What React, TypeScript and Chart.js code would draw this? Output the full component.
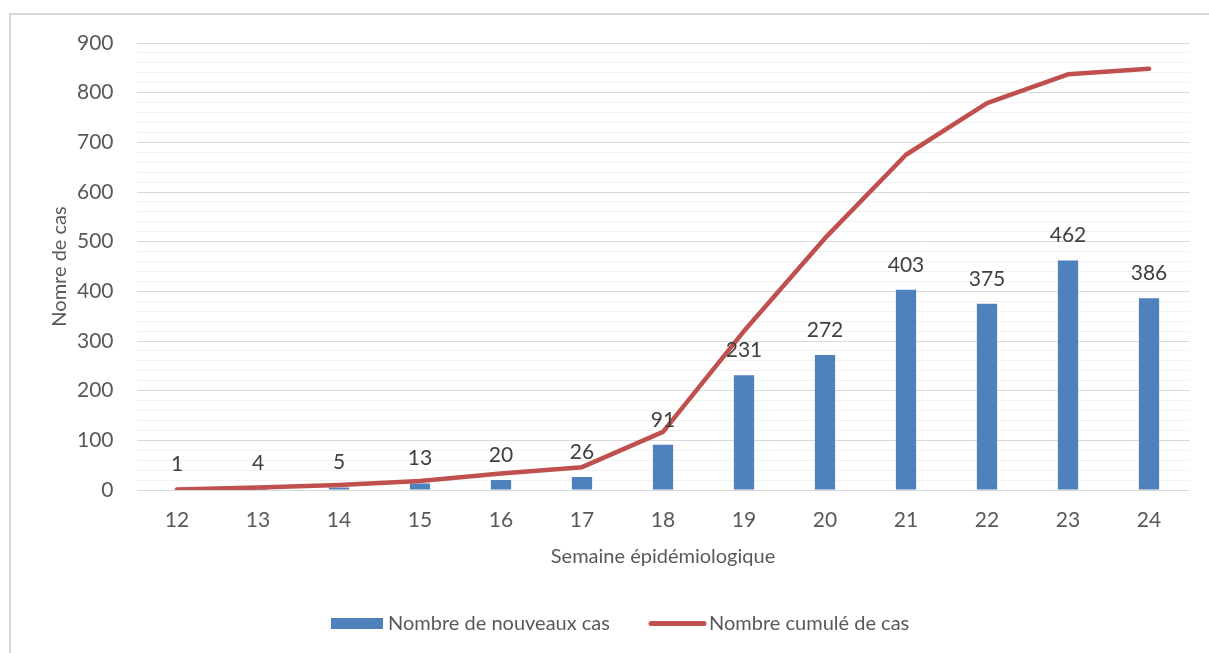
import React, { useEffect, useRef } from "react";
import { Chart, registerables } from "chart.js";

Chart.register(...registerables);

const weeks = ["12", "13", "14", "15", "16", "17", "18", "19", "20", "21", "22", "23", "24"];
const newCases = [1, 4, 5, 13, 20, 26, 91, 231, 272, 403, 375, 462, 386];
const cumulativeCases = [1, 5, 10, 18, 33, 46, 117, 320, 507, 675, 779, 837, 848];
const seriesNames = ["Nombre de nouveaux cas", "Nombre cumulé de cas"];
const xTitle = "Semaine épidémiologique";
const yTitle = "Nomre de cas";

const BLUE = "#4F81BD";
const RED = "#C0504D";
const FONT = "Lato";

export default function App() {
  const ref = useRef<HTMLCanvasElement | null>(null);

  useEffect(() => {
    if (!ref.current) return;

    const framePlugin = {
      id: "frame",
      beforeDraw(chart: any) {
        const ctx = chart.ctx;
        ctx.save();
        ctx.fillStyle = "#ffffff";
        ctx.fillRect(0, 0, chart.width, chart.height);
        ctx.strokeStyle = "#d9d9d9";
        ctx.lineWidth = 2;
        ctx.strokeRect(10, 14, chart.width + 20, chart.height + 20);
        ctx.restore();
      },
    };

    const labelsPlugin = {
      id: "barLabels",
      afterDatasetsDraw(chart: any) {
        const ctx = chart.ctx;
        const meta = chart.getDatasetMeta(0);
        ctx.save();
        ctx.font = `21px ${FONT}`;
        ctx.fillStyle = "#404040";
        ctx.textAlign = "center";
        ctx.textBaseline = "middle";
        meta.data.forEach((el: any, i: number) => {
          ctx.fillText(String(newCases[i]), el.x, el.y - 25);
        });
        ctx.restore();
      },
    };

    const legendPlugin = {
      id: "customLegend",
      afterDraw(chart: any) {
        const ctx = chart.ctx;
        const cy = 623.5;
        ctx.save();
        ctx.fillStyle = BLUE;
        ctx.fillRect(331, 618, 52, 11);
        ctx.strokeStyle = RED;
        ctx.lineWidth = 5;
        ctx.lineCap = "round";
        ctx.beginPath();
        ctx.moveTo(651, cy);
        ctx.lineTo(704, cy);
        ctx.stroke();
        ctx.font = `20px ${FONT}`;
        ctx.fillStyle = "#595959";
        ctx.textAlign = "left";
        ctx.textBaseline = "middle";
        ctx.fillText(seriesNames[0], 388, cy);
        ctx.fillText(seriesNames[1], 709, cy);
        ctx.restore();
      },
    };

    const chart = new Chart(ref.current, {
      type: "bar",
      data: {
        labels: weeks,
        datasets: [
          {
            type: "bar",
            label: seriesNames[0],
            data: newCases,
            backgroundColor: BLUE,
            barPercentage: 0.5,
            categoryPercentage: 0.5,
            order: 1,
          },
          {
            type: "line",
            label: seriesNames[1],
            data: cumulativeCases,
            borderColor: RED,
            backgroundColor: RED,
            borderWidth: 4.5,
            pointRadius: 0,
            tension: 0,
            borderCapStyle: "round",
            borderJoinStyle: "round",
            order: 0,
          } as any,
        ],
      },
      options: {
        animation: false,
        responsive: false,
        maintainAspectRatio: false,
        layout: { padding: { left: 0, top: 43, right: 19.5, bottom: 63 } },
        plugins: {
          legend: { display: false },
          tooltip: { enabled: false },
        },
        scales: {
          x: {
            offset: true,
            grid: { display: false, drawTicks: false },
            border: { display: false },
            ticks: {
              color: "#595959",
              font: { family: FONT, size: 21 },
              padding: 18,
              maxRotation: 0,
              autoSkip: false,
            },
            title: {
              display: true,
              text: xTitle,
              color: "#595959",
              font: { family: FONT, size: 20 },
              padding: { top: 0, bottom: 21 },
            },
            afterFit(scale: any) {
              scale.height = 100;
            },
          },
          y: {
            min: 0,
            max: 900,
            grid: {
              drawTicks: false,
              lineWidth: 1,
              color: (c: any) => (c.tick && c.tick.value % 100 === 0 ? "#d9d9d9" : "#f2f2f2"),
            },
            border: { display: false },
            ticks: {
              stepSize: 20,
              autoSkip: false,
              maxTicksLimit: 100,
              padding: 23,
              color: "#595959",
              font: { family: FONT, size: 21 },
              callback: (v: any) => (Number(v) % 100 === 0 ? String(v) : ""),
            },
            title: {
              display: true,
              text: yTitle,
              color: "#595959",
              font: { family: FONT, size: 20 },
              padding: { top: 48, bottom: 0 },
            },
            afterFit(scale: any) {
              scale.width = 136.5;
            },
          },
        },
      },
      plugins: [framePlugin, labelsPlugin, legendPlugin],
    });

    return () => chart.destroy();
  }, []);

  return (
    <div style={{ position: "fixed", left: 0, top: 0, width: 1209, height: 653, background: "#fff" }}>
      <canvas ref={ref} width={1209} height={653} style={{ display: "block", width: 1209, height: 653 }} />
    </div>
  );
}
